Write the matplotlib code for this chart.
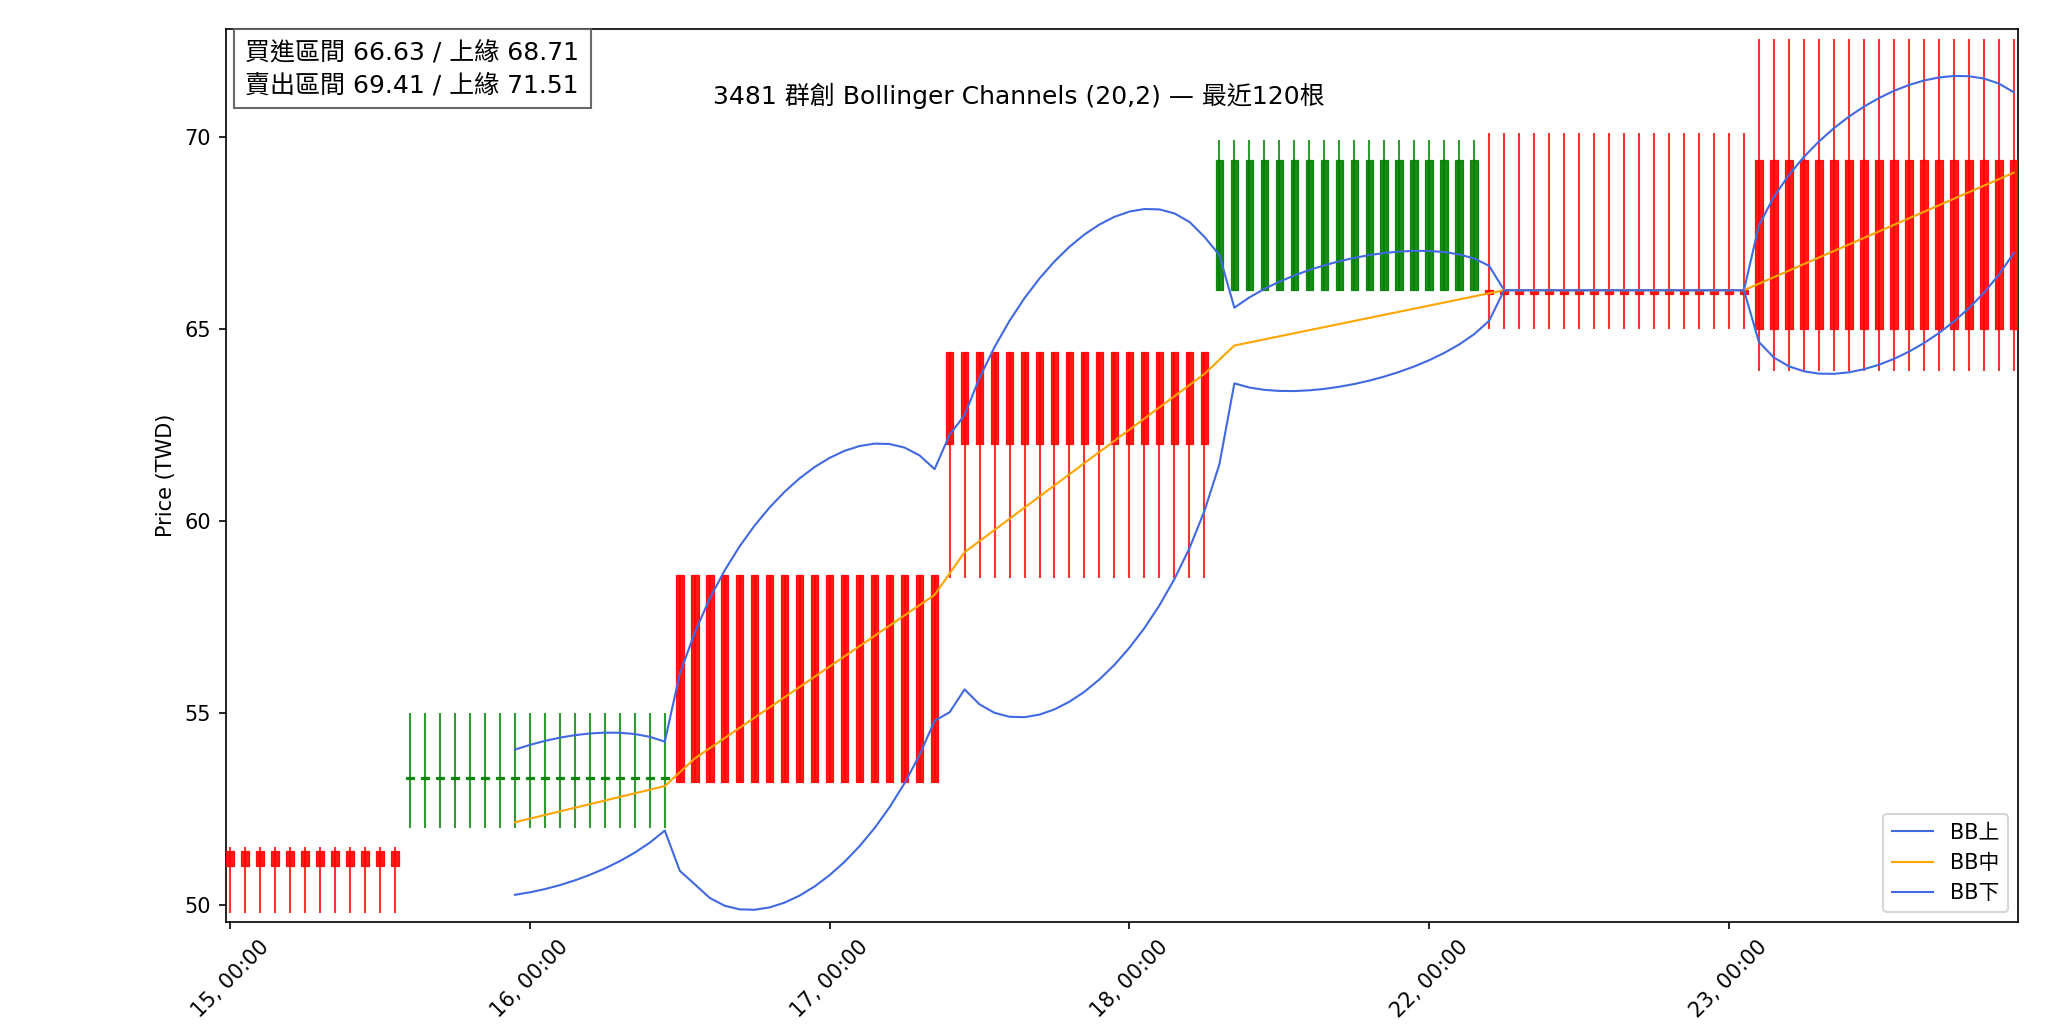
import numpy as np
import pandas as pd
import matplotlib
matplotlib.use('Agg')
import matplotlib.pyplot as plt

plt.rcParams['font.family'] = ['DejaVu Sans', 'Noto Sans CJK TC']

# candles come in runs of identical bars
counts = [12, 18, 18, 18, 18, 18, 18]
opens = [51.0, 53.32, 53.2, 62.0, 69.4, 65.9, 65.0]
highs = [51.5, 55.0, 58.6, 64.4, 69.9, 70.1, 72.55]
lows = [49.8, 52.0, 53.2, 58.5, 66.0, 65.0, 63.9]
closes = [51.4, 53.28, 58.6, 64.4, 66.0, 66.0, 69.4]

tick_pos = [0, 20, 40, 60, 80, 100]
tick_labels = ['15, 00:00', '16, 00:00', '17, 00:00', '18, 00:00', '22, 00:00', '23, 00:00']

title = '3481 群創 Bollinger Channels (20,2) — 最近120根'
info = '買進區間 66.63 / 上緣 68.71\n賣出區間 69.41 / 上緣 71.51'

o = np.repeat(opens, counts)
h = np.repeat(highs, counts)
l = np.repeat(lows, counts)
c = np.repeat(closes, counts)
x = np.arange(len(c))

close = pd.Series(c)
mid = close.rolling(20).mean()
sd = close.rolling(20).std()
upper = mid + 2 * sd
lower = mid - 2 * sd

fig, ax = plt.subplots(figsize=(13.8, 6.9), dpi=150)
fig.subplots_adjust(left=0.109, right=0.975, top=0.972, bottom=0.109)

cols = np.where(c >= o, 'red', 'green')
ax.vlines(x, l, h, colors=cols, linewidth=1, alpha=0.8, zorder=2)
body = np.abs(c - o)
body = np.where(body < 0.05, 0.05, body)
ax.bar(x, body, bottom=np.minimum(o, c), width=0.5, color=cols,
       edgecolor=cols, linewidth=0.6, alpha=0.9, zorder=3)

ax.plot(x, upper, color='royalblue', lw=1, label='BB上', zorder=4)
ax.plot(x, mid, color='orange', lw=1, label='BB中', zorder=4)
ax.plot(x, lower, color='royalblue', lw=1, label='BB下', zorder=4)

ax.set_xticks(tick_pos)
ax.set_xticklabels(tick_labels, rotation=45)
ax.set_xlim(-0.3, 119.3)
ax.set_ylim(49.55, 72.8)
ax.set_ylabel('Price (TWD)')
ax.legend(loc='lower right')

ax.text(0.011, 0.987, info, transform=ax.transAxes, va='top', ha='left',
        fontsize=12, linespacing=1.45, zorder=10,
        bbox=dict(boxstyle='square,pad=0.45', facecolor='white',
                  edgecolor='0.35', alpha=0.9))
fig.text(0.492, 0.907, title, ha='center', va='center', fontsize=12)

fig.savefig('out.png')
